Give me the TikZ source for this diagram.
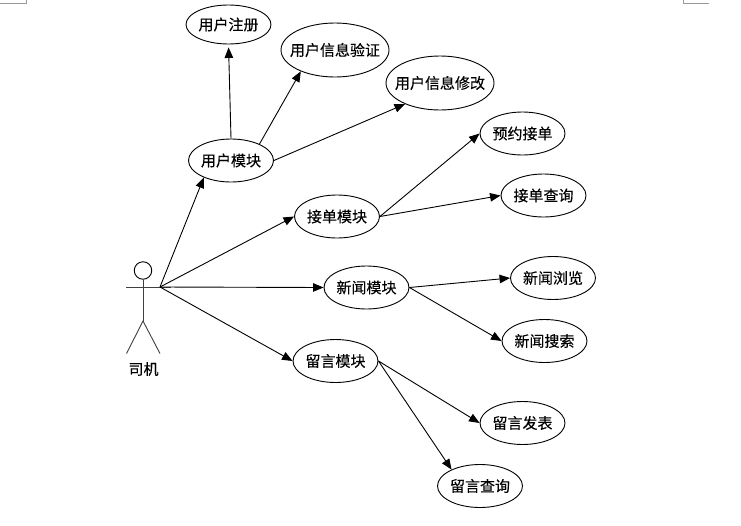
\documentclass[tikz,border=0pt]{standalone}
\usepackage{fontspec}
\setmainfont[FakeBold=0.3]{Noto Sans CJK SC}
\usetikzlibrary{shapes.geometric,arrows.meta}
\tikzset{
  usecase/.style={draw=black,line width=0.9pt,shape=ellipse,inner sep=0pt,inner xsep=-14pt,inner ysep=-8pt,minimum width=85pt,minimum height=43pt,font=\fontsize{15pt}{16pt}\selectfont,text=black},
  widecase/.style={usecase,minimum width=108pt,minimum height=54pt},
  link/.style={draw=black,line width=0.9pt,-{Triangle[length=10.5pt,width=8.5pt]}},
  actorline/.style={draw=black!75,line width=0.9pt},
  cropmark/.style={draw=black!40,line width=0.6pt},
}
\begin{document}
\begin{tikzpicture}[x=1pt,y=-1pt]
\useasboundingbox (0,0) rectangle (741,525);
\fill[white] (0,0) rectangle (741,525);
% crop marks
\draw[cropmark] (0,3.5) -- (26,3.5) -- (26,0);
\draw[cropmark] (709,3.5) -- (683,3.5) -- (683,0);
% nodes
\node[usecase,minimum height=39pt] (reg) at (228.5,24.5) {用户注册};
\node[widecase] (verify) at (335,50) {用户信息验证};
\node[widecase] (modify) at (440,83) {用户信息修改};
\node[usecase] (user) at (231,160.5) {用户模块};
\node[usecase] (order) at (337,216.5) {接单模块};
\node[usecase] (book) at (522.5,133.5) {预约接单};
\node[usecase] (query) at (543.5,195.5) {接单查询};
\node[usecase] (news) at (366.5,287.5) {新闻模块};
\node[usecase] (browse) at (553,278) {新闻浏览};
\node[usecase] (search) at (544.5,341) {新闻搜索};
\node[usecase] (msg) at (335.5,361) {留言模块};
\node[usecase] (post) at (522.5,423) {留言发表};
\node[usecase] (mquery) at (480,486) {留言查询};
% actor
\node[draw=black,line width=0.9pt,shape=circle,minimum size=17.5pt,inner sep=0pt] (head) at (143,270.5) {};
\coordinate (hub) at (160,287);
\coordinate (armL) at (126,287);
\coordinate (armR) at (171,287);
\coordinate (hip) at (143,321);
\coordinate (footL) at (126.5,353.5);
\coordinate (footR) at (160,353.5);
\draw[actorline] (armL) -- (armR);
\draw[actorline] (head.south) -- (hip);
\draw[actorline] (footL) -- (hip) -- (footR);
\node[font=\fontsize{15pt}{16pt}\selectfont,inner sep=0pt] (driver) at (143.5,369) {司机};
% connectors
\draw[link] (hub) -- (user.212);
\draw[link] (hub) -- (order.180);
\draw[link] (hub) -- (news.180);
\draw[link] (hub) -- (msg.180);
\draw[link,shorten >=3pt] (user.90) -- (reg.270);
\draw[link] (user.30) -- (verify.212);
\draw[link] (user.0) -- (modify.211);
\draw[link] (order.0) -- (book.180);
\draw[link] (order.0) -- (query.180);
\draw[link] (news.0) -- (browse.180);
\draw[link] (news.0) -- (search.180);
\draw[link] (msg.0) -- (post.180);
\draw[link] (msg.0) -- (mquery.150);
\end{tikzpicture}
\end{document}
